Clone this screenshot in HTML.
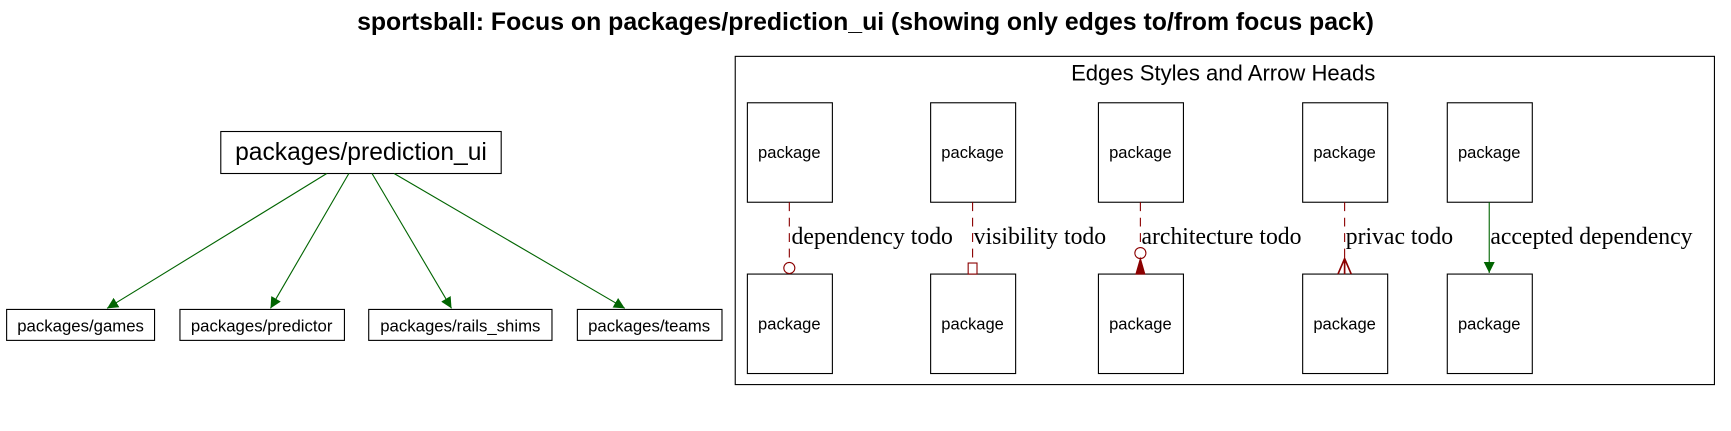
<!DOCTYPE html>
<html><head><meta charset="utf-8"><style>html,body{margin:0;padding:0;background:#fff}svg{display:block}</style></head>
<body>
<svg width="1731" height="431" viewBox="0 0 1568 390" preserveAspectRatio="none" xmlns="http://www.w3.org/2000/svg" font-family="Liberation Sans, sans-serif">
<defs>
<marker id="ga" markerWidth="10" markerHeight="10" refX="10" refY="5" orient="auto" markerUnits="userSpaceOnUse"><path d="M0,0 L10,5 L0,10 z" fill="#006400"/></marker>
</defs>
<text x="784" y="27" text-anchor="middle" font-weight="bold" font-size="22.5">sportsball: Focus on packages/prediction_ui (showing only edges to/from focus pack)</text>
<g>
<rect x="200" y="119" width="254" height="38" fill="#fff" stroke="#000"/>
<text x="327" y="145" text-anchor="middle" font-size="22.3">packages/prediction_ui</text>
<g stroke="#006400" stroke-width="1" fill="none">
<line x1="296" y1="157" x2="97" y2="279" marker-end="url(#ga)"/>
<line x1="316" y1="157" x2="245" y2="279" marker-end="url(#ga)"/>
<line x1="337" y1="157" x2="409" y2="279" marker-end="url(#ga)"/>
<line x1="357" y1="157" x2="566" y2="279" marker-end="url(#ga)"/>
</g>
<g font-size="15.2" text-anchor="middle">
<rect x="6" y="280" width="134" height="28" fill="#fff" stroke="#000"/><text x="73" y="300">packages/games</text>
<rect x="163" y="280" width="149" height="28" fill="#fff" stroke="#000"/><text x="237" y="300">packages/predictor</text>
<rect x="334" y="280" width="166" height="28" fill="#fff" stroke="#000"/><text x="417" y="300">packages/rails_shims</text>
<rect x="523" y="280" width="131" height="28" fill="#fff" stroke="#000"/><text x="588" y="300">packages/teams</text>
</g>
</g>
<g>
<rect x="666" y="51" width="887" height="297" fill="none" stroke="#000"/>
<text x="1108" y="73" text-anchor="middle" font-size="20">Edges Styles and Arrow Heads</text>
<g fill="none" stroke="#000">
<rect x="677" y="93" width="77" height="90"/>
<rect x="843" y="93" width="77" height="90"/>
<rect x="995" y="93" width="77" height="90"/>
<rect x="1180" y="93" width="77" height="90"/>
<rect x="1311" y="93" width="77" height="90"/>
<rect x="677" y="248" width="77" height="90"/>
<rect x="843" y="248" width="77" height="90"/>
<rect x="995" y="248" width="77" height="90"/>
<rect x="1180" y="248" width="77" height="90"/>
<rect x="1311" y="248" width="77" height="90"/>
</g>
<g font-size="15" text-anchor="middle" fill="#000">
<text x="715" y="143">package</text><text x="881" y="143">package</text><text x="1033" y="143">package</text><text x="1218" y="143">package</text><text x="1349" y="143">package</text>
<text x="715" y="298">package</text><text x="881" y="298">package</text><text x="1033" y="298">package</text><text x="1218" y="298">package</text><text x="1349" y="298">package</text>
</g>
<g stroke="#8b0000" stroke-dasharray="8,6" fill="none">
<line x1="715" y1="183" x2="715" y2="237"/>
<line x1="881" y1="183" x2="881" y2="238"/>
<line x1="1033" y1="183" x2="1033" y2="224"/>
<line x1="1218" y1="183" x2="1218" y2="240"/>
</g>
<g stroke="#8b0000" fill="#fff">
<circle cx="715" cy="242.5" r="5"/>
<rect x="877" y="238" width="8" height="10"/>
<circle cx="1033" cy="229" r="5"/>
</g>
<path d="M1029,248 L1033,234 L1037,248 z" fill="#8b0000" stroke="#8b0000"/>
<path d="M1212,248 L1218,234 L1224,248 M1218,234 L1218,248" fill="none" stroke="#8b0000" stroke-width="1.5"/>
<line x1="1349" y1="183" x2="1349" y2="247" stroke="#006400" marker-end="url(#ga)"/>
<g font-family="Liberation Serif, serif" font-size="21.5" fill="#000">
<text x="717" y="221">dependency todo</text>
<text x="882" y="221">visibility todo</text>
<text x="1034" y="221">architecture todo</text>
<text x="1219" y="221">privac todo</text>
<text x="1350" y="221">accepted dependency</text>
</g>
</g>
</svg>
</body></html>
